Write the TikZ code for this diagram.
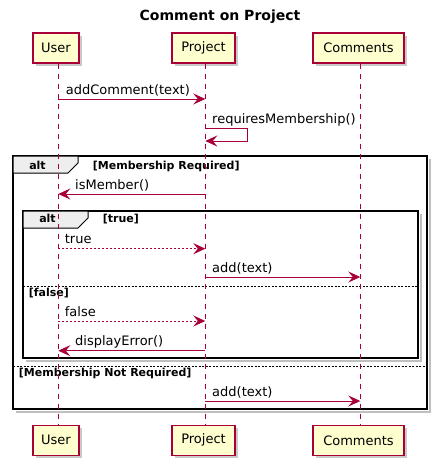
\documentclass[tikz,border=0pt]{standalone}
\usepackage{fontspec}
\setmainfont{DejaVu Sans}
\usetikzlibrary{arrows.meta,shadows}
\definecolor{pborder}{HTML}{A80036}
\definecolor{pfill}{HTML}{FEFECE}
\definecolor{tabfill}{HTML}{EEEEEE}
\newcommand\msgfont{\fontsize{13}{15}\selectfont}
\newcommand\altfont{\fontsize{11}{13}\selectfont\bfseries}
\begin{document}
\begin{tikzpicture}[x=1pt,y=-1pt,
  part/.style={draw=pborder, fill=pfill, line width=1.2pt, minimum height=30pt, inner sep=0pt, font=\msgfont,
    drop shadow={shadow xshift=3pt, shadow yshift=-3pt, fill=black!35, opacity=0.6}},
  life/.style={pborder, line width=0.8pt, dash pattern=on 5pt off 5pt},
  msg/.style={pborder, line width=1pt, -{Stealth[length=12pt,width=11pt,inset=4.5pt]}},
  ret/.style={msg, dash pattern=on 2pt off 2pt},
  frame/.style={line width=1.6pt, black},
  fshadow/.style={line width=2pt, black!25},
  sep/.style={line width=0.6pt, black, dash pattern=on 2pt off 1.5pt},
  tab/.style={fill=tabfill, draw=black, line width=1pt},
  lbl/.style={anchor=base west, inner sep=0pt, font=\msgfont},
  alttxt/.style={anchor=base, inner sep=0pt, font=\altfont},
  guard/.style={anchor=base west, inner sep=0pt, font=\altfont},
  ttl/.style={inner sep=0pt, font=\fontsize{14}{16}\selectfont\bfseries}]
\useasboundingbox (0,0) rectangle (438,466);
\fill[white] (0,0) rectangle (438,466);

\node[ttl] (title) at (220,17) {Comment on Project};

% participants
\node[part, minimum width=46pt] (u1) at (56,48) {User};
\node[part, minimum width=63pt] (p1) at (203.5,48) {Project};
\node[part, minimum width=91pt] (c1) at (358.5,48) {Comments};
\node[part, minimum width=46pt] (u2) at (56,440.3) {User};
\node[part, minimum width=63pt] (p2) at (203.5,440.3) {Project};
\node[part, minimum width=91pt] (c2) at (358.5,440.3) {Comments};

% frame shadows
\draw[fshadow] (16,159) ++(414,0) -- ++(0,253) -- ++(-414,0);
\draw[fshadow] (26,214) ++(395,0) -- ++(0,147) -- ++(-395,0);

% outer alt frame
\draw[frame] (13,156) rectangle (427,409);
\draw[tab] (13,156) -- (78,156) -- (78,163) -- (68,173) -- (13,173) -- cycle;
\node[alttxt] (alt1) at (37.5,169.3) {alt};
\node[guard] (g1) at (92.7,169.3) {[Membership Required]};
\draw[sep] (13,366.3) -- (427,366.3);
\node[guard] (g4) at (18.7,376.3) {[Membership Not Required]};

% inner alt frame
\draw[frame, fill=white] (23,211) rectangle (418,358);
\draw[tab] (23,211) -- (88,211) -- (88,218) -- (78,228) -- (23,228) -- cycle;
\node[alttxt] (alt2) at (47.5,222.3) {alt};
\node[guard] (g2) at (102.7,222.3) {[true]};
\draw[sep] (23,286) -- (418,286);
\node[guard] (g3) at (28.7,296.7) {[false]};

% lifelines
\draw[life] ([xshift=2pt]u1.south) -- ([xshift=2pt]u2.north);
\draw[life] ([xshift=2pt]p1.south) -- ([xshift=2pt]p2.north);
\draw[life] ([xshift=2pt]c1.south) -- ([xshift=2pt]c2.north);

% messages
\coordinate (a1) at (58.3,99);   \coordinate (b1) at (205.3,99);
\draw[msg] (a1) -- (b1);
\node[lbl] (t1) at (65.7,94) {addComment(text)};

\coordinate (s1) at (205.3,128); \coordinate (s2) at (205.3,141);
\draw[msg] (s1) -- (247,128) -- (247,141) -- (s2);
\node[lbl] (t2) at (212,123.5) {requiresMembership()};

\coordinate (a3) at (205.3,194); \coordinate (b3) at (58.3,194);
\draw[msg] (a3) -- (b3);
\node[lbl] (t3) at (75,189.3) {isMember()};

\coordinate (a4) at (58.3,248.7); \coordinate (b4) at (205.3,248.7);
\draw[ret] (a4) -- (b4);
\node[lbl] (t4) at (64.7,243.3) {true};

\coordinate (a5) at (205.3,277); \coordinate (b5) at (360.3,277);
\draw[msg] (a5) -- (b5);
\node[lbl] (t5) at (212,272) {add(text)};

\coordinate (a6) at (58.3,321); \coordinate (b6) at (205.3,321);
\draw[ret] (a6) -- (b6);
\node[lbl] (t6) at (64.7,316) {false};

\coordinate (a7) at (205.3,350.7); \coordinate (b7) at (58.3,350.7);
\draw[msg] (a7) -- (b7);
\node[lbl] (t7) at (75,345.7) {displayError()};

\coordinate (a8) at (205.3,401); \coordinate (b8) at (360.3,401);
\draw[msg] (a8) -- (b8);
\node[lbl] (t8) at (212,396) {add(text)};
\end{tikzpicture}
\end{document}
